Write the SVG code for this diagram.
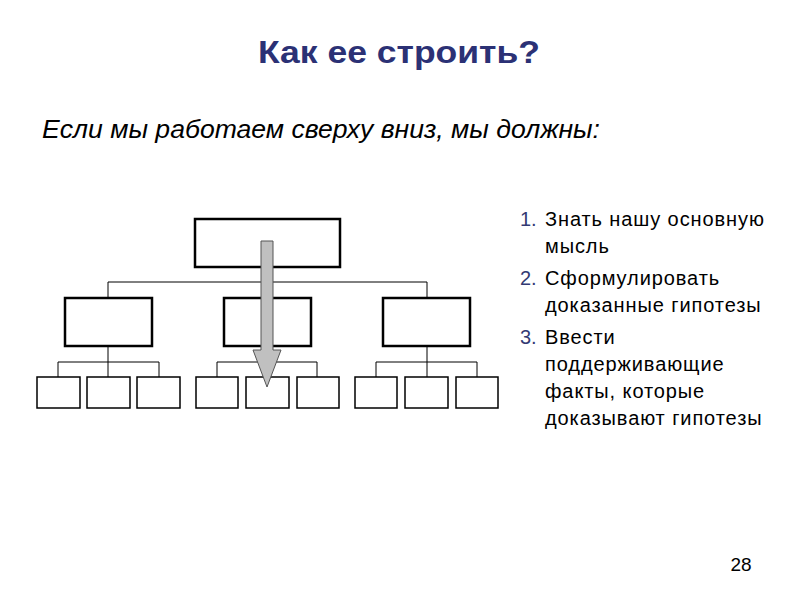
<svg xmlns="http://www.w3.org/2000/svg" width="800" height="600" viewBox="0 0 800 600">
<style>
.b{fill:#fff;stroke:#000;stroke-width:2.5}
.s{fill:#fff;stroke:#000;stroke-width:1.5}
.c{fill:none;stroke:#000;stroke-width:1}
text{font-family:"Liberation Sans",Arial,sans-serif}
.l{font-size:20px;fill:#000;letter-spacing:0.9px}
.n{font-size:20px;fill:#333a73}
</style>
<rect width="800" height="600" fill="#fff"/>
<text x="399" y="63" text-anchor="middle" font-size="32" font-weight="bold" fill="#2b3175" textLength="282" lengthAdjust="spacingAndGlyphs">Как ее строить?</text>
<text x="42" y="138" font-size="25" font-style="italic" fill="#000" textLength="558" lengthAdjust="spacingAndGlyphs">Если мы работаем сверху вниз, мы должны:</text>
<g id="connectors">
<path class="c" d="M267 267V282M108 282H427M108 282V298M267 282V298M427 282V298"/>
<path class="c" d="M108 346V362M58 362H159M58 362V377M108 362V377M159 362V377"/>
<path class="c" d="M267 346V362M217 362H317M217 362V377M267 362V377M317 362V377"/>
<path class="c" d="M427 346V362M376 362H477M376 362V377M427 362V377M477 362V377"/>
</g>
<g id="top"><rect class="b" x="195" y="219" width="145" height="48"/></g>
<g id="m1"><rect class="b" x="65" y="298" width="87" height="48"/></g>
<g id="m2"><rect class="b" x="224" y="298" width="87" height="48"/></g>
<g id="m3"><rect class="b" x="383" y="298" width="87" height="48"/></g>
<g id="s1"><rect class="s" x="37" y="377" width="43" height="31"/></g>
<g id="s2"><rect class="s" x="87" y="377" width="43" height="31"/></g>
<g id="s3"><rect class="s" x="137" y="377" width="43" height="31"/></g>
<g id="s4"><rect class="s" x="196" y="377" width="42" height="31"/></g>
<g id="s5"><rect class="s" x="246" y="377" width="43" height="31"/></g>
<g id="s6"><rect class="s" x="297" y="377" width="42" height="31"/></g>
<g id="s7"><rect class="s" x="355" y="377" width="42" height="31"/></g>
<g id="s8"><rect class="s" x="405" y="377" width="43" height="31"/></g>
<g id="s9"><rect class="s" x="456" y="377" width="42" height="31"/></g>
<g id="arrow"><path d="M261 241H273V350H281L267 387L253 350H261Z" fill="#c0c0c0" stroke="#555" stroke-width="1"/></g>
<text class="n" x="520" y="226">1.</text><text class="l" x="545" y="226">Знать нашу основную</text>
<text class="l" x="545" y="253">мысль</text>
<text class="n" x="520" y="285">2.</text><text class="l" x="545" y="285">Сформулировать</text>
<text class="l" x="545" y="312">доказанные гипотезы</text>
<text class="n" x="520" y="344">3.</text><text class="l" x="545" y="344">Ввести</text>
<text class="l" x="545" y="371">поддерживающие</text>
<text class="l" x="545" y="398">факты, которые</text>
<text class="l" x="545" y="425">доказывают гипотезы</text>
<text x="741" y="571" font-size="19" text-anchor="middle" fill="#000">28</text>
</svg>
